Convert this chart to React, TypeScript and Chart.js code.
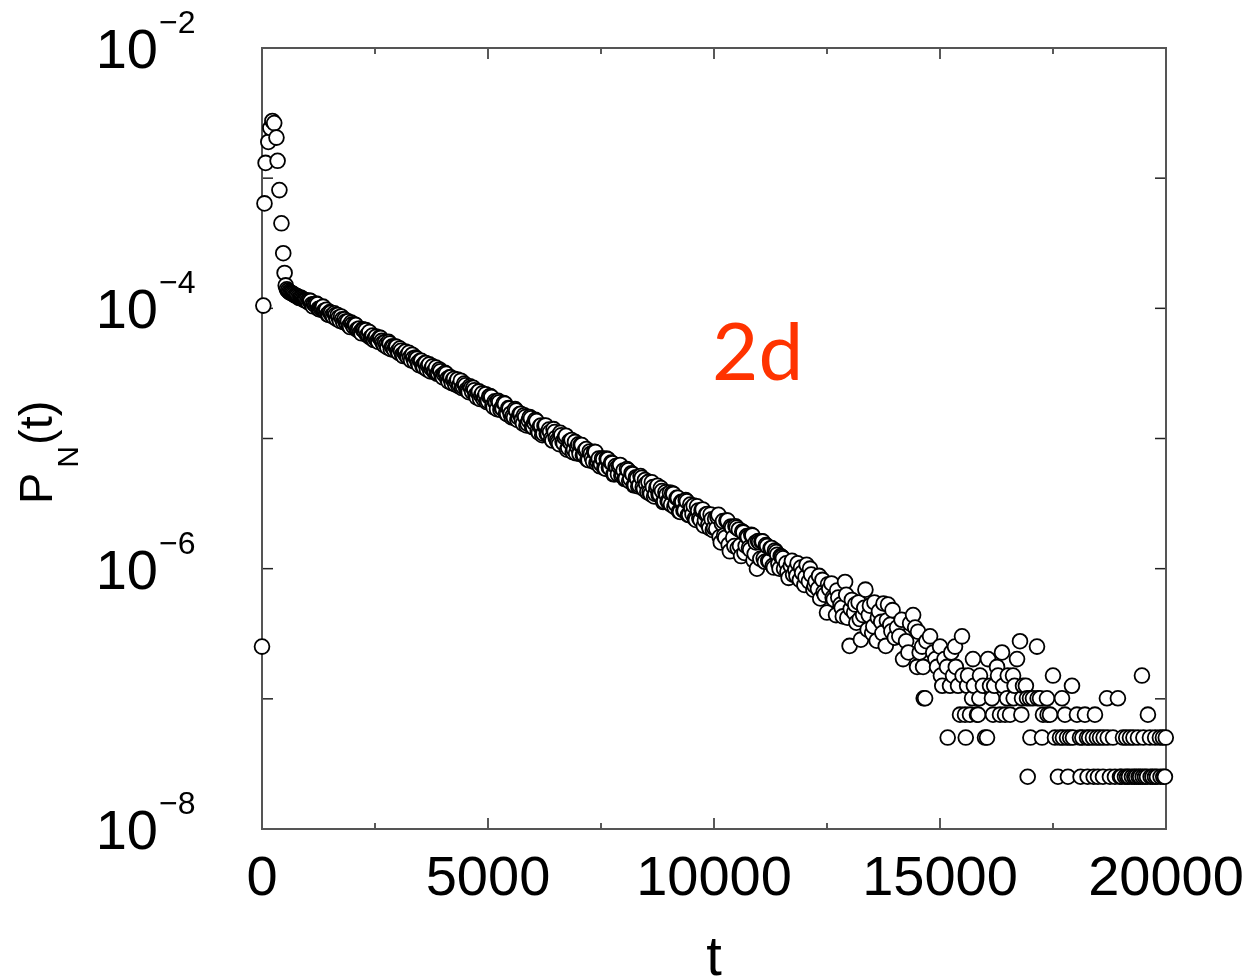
import { useEffect, useRef } from "react";
import { Chart, registerables } from "chart.js";

Chart.register(...registerables);

// ---- axis definitions ----
const X_MAJOR = [0, 5000, 10000, 15000, 20000];
const X_MINOR = [2500, 7500, 12500, 17500];
const X_LABELS = ["0", "5000", "10000", "15000", "20000"];
const Y_DECADES = [1e-2, 1e-3, 1e-4, 1e-5, 1e-6, 1e-7, 1e-8];
const Y_LABEL_VALUES = [1e-2, 1e-4, 1e-6, 1e-8];
const Y_LABEL_EXP = ["\u22122", "\u22124", "\u22126", "\u22128"];

// ---- data: early transient (t, P) ----
const EARLY_T = [0, 30, 55, 80, 140, 185, 230, 270, 320, 345, 385, 430, 470, 500, 525];
const EARLY_P = [2.52e-7, 1.05e-4, 6.4e-4, 1.31e-3, 1.9e-3, 2.43e-3, 2.75e-3, 2.65e-3, 2.05e-3, 1.36e-3, 8.1e-4, 4.5e-4, 2.65e-4, 1.87e-4, 1.5e-4];

// ---- data: exponential regime, samples at t = 550, 600, ..., 11500 ----
const DENSE_A_T0 = 550;
const DENSE_DT = 50;
const DENSE_A = [
  1.40e-4, 1.34e-4, 1.31e-4, 1.28e-4, 1.25e-4, 1.22e-4, 1.21e-4, 1.18e-4, 1.16e-4, 1.13e-4,
  1.15e-4, 1.07e-4, 1.08e-4, 1.09e-4, 9.9e-5, 1.0e-4, 1.03e-4, 9.5e-5, 9.0e-5, 9.35e-5,
  8.82e-5, 9.16e-5, 8.28e-5, 8.51e-5, 8.66e-5, 7.83e-5, 7.9e-5, 7.96e-5, 7.18e-5, 7.55e-5,
  7.52e-5, 6.87e-5, 6.99e-5, 6.43e-5, 6.83e-5, 6.8e-5, 6.21e-5, 5.96e-5, 6.19e-5, 5.94e-5,
  5.64e-5, 5.97e-5, 5.62e-5, 5.22e-5, 5.28e-5, 5.52e-5, 4.85e-5, 5.09e-5, 5.08e-5, 4.68e-5,
  4.91e-5, 4.4e-5, 4.57e-5, 4.29e-5, 4.55e-5, 3.98e-5, 4.14e-5, 4.18e-5, 3.81e-5, 3.96e-5,
  3.62e-5, 3.8e-5, 3.39e-5, 3.71e-5, 3.45e-5, 3.28e-5, 3.51e-5, 3.17e-5, 3.29e-5, 2.95e-5,
  3.2e-5, 2.87e-5, 2.95e-5, 2.66e-5, 2.88e-5, 2.74e-5, 2.52e-5, 2.78e-5, 2.49e-5, 2.56e-5,
  2.32e-5, 2.52e-5, 2.28e-5, 2.35e-5, 2.07e-5, 2.3e-5, 2.14e-5, 2.01e-5, 2.19e-5, 1.94e-5,
  2.12e-5, 1.8e-5, 1.93e-5, 1.68e-5, 1.9e-5, 1.72e-5, 1.87e-5, 1.56e-5, 1.71e-5, 1.55e-5,
  1.5e-5, 1.68e-5, 1.39e-5, 1.54e-5, 1.4e-5, 1.51e-5, 1.26e-5, 1.38e-5, 1.43e-5, 1.22e-5,
  1.39e-5, 1.15e-5, 1.24e-5, 1.06e-5, 1.25e-5, 1.09e-5, 1.17e-5, 1.0e-5, 1.18e-5, 1.01e-5,
  9.37e-6, 1.106e-5, 9.45e-6, 1.02e-5, 8.21e-6, 9.5e-6, 9.73e-6, 8.22e-6, 7.7e-6, 9.03e-6,
  8.92e-6, 7.44e-6, 8.14e-6, 6.89e-6, 7.95e-6, 7.12e-6, 7.9e-6, 6.46e-6, 7.01e-6, 6.38e-6,
  6.91e-6, 5.86e-6, 6.93e-6, 5.92e-6, 6.46e-6, 5.32e-6, 5.95e-6, 6.1e-6, 5.2e-6, 5.68e-6,
  4.92e-6, 5.7e-6, 4.92e-6, 5.31e-6, 4.37e-6, 4.94e-6, 4.36e-6, 4.99e-6, 4.09e-6, 4.48e-6,
  4.64e-6, 3.74e-6, 4.23e-6, 3.75e-6, 4.33e-6, 3.71e-6, 3.95e-6, 3.29e-6, 3.69e-6, 3.26e-6,
  3.11e-6, 3.75e-6, 3.15e-6, 3.5e-6, 2.73e-6, 3.25e-6, 2.79e-6, 3.29e-6, 2.59e-6, 2.92e-6,
  3.05e-6, 2.37e-6, 2.79e-6, 2.37e-6, 2.85e-6, 2.35e-6, 2.63e-6, 2.05e-6, 2.4e-6, 2.06e-6,
  2.03e-6, 2.59e-6, 1.59e-6, 2.32e-6, 1.73e-6, 2.34e-6, 1.36e-6, 2.07e-6, 1.49e-6, 2.07e-6,
  2.0e-6, 1.25e-6, 1.9e-6, 1.5e-6, 1.75e-6, 1.4e-6, 1.8e-6, 1.3e-6, 1.0e-6, 1.6e-6,
  1.62e-6, 1.2e-6, 1.52e-6, 1.15e-6, 1.43e-6, 1.05e-6, 1.38e-6, 1.28e-6, 1.0e-6, 1.23e-6,
];

// ---- data: interleaved samples at t = 575, 625, ..., 11475 ----
const DENSE_B_T0 = 575;
const DENSE_B = [
  1.37e-4, 1.32e-4, 1.30e-4, 1.26e-4, 1.24e-4, 1.20e-4, 1.20e-4, 1.16e-4, 1.15e-4, 1.11e-4,
  1.137e-4, 1.037e-4, 1.068e-4, 1.075e-4, 9.81e-5, 1.01e-4, 9.58e-5, 9.75e-5, 8.9e-5, 9.25e-5,
  8.64e-5, 8.88e-5, 8.87e-5, 8.01e-5, 8.24e-5, 8.23e-5, 7.65e-5, 7.34e-5, 7.78e-5, 7.25e-5,
  7.44e-5, 6.86e-5, 6.58e-5, 6.9e-5, 6.62e-5, 6.22e-5, 6.58e-5, 6.02e-5, 5.71e-5, 6.06e-5,
  5.52e-5, 5.91e-5, 5.4e-5, 5.5e-5, 5.01e-5, 5.37e-5, 5.09e-5, 4.79e-5, 5.07e-5, 4.54e-5,
  4.72e-5, 4.3e-5, 4.65e-5, 4.21e-5, 4.2e-5, 4.4e-5, 3.9e-5, 4.09e-5, 3.66e-5, 3.95e-5,
  3.54e-5, 3.8e-5, 3.61e-5, 3.28e-5, 3.58e-5, 3.27e-5, 3.14e-5, 3.39e-5, 3.04e-5, 3.12e-5,
  3.14e-5, 2.75e-5, 2.95e-5, 2.83e-5, 2.6e-5, 2.84e-5, 2.57e-5, 2.44e-5, 2.64e-5, 2.36e-5,
  2.27e-5, 2.45e-5, 2.45e-5, 2.15e-5, 2.25e-5, 2.01e-5, 2.22e-5, 2.09e-5, 1.9e-5, 2.1e-5,
  2.08e-5, 1.74e-5, 1.89e-5, 1.95e-5, 1.66e-5, 1.69e-5, 1.85e-5, 1.54e-5, 1.7e-5, 1.45e-5,
  1.45e-5, 1.64e-5, 1.45e-5, 1.55e-5, 1.3e-5, 1.46e-5, 1.3e-5, 1.46e-5, 1.23e-5, 1.32e-5,
  1.36e-5, 1.11e-5, 1.26e-5, 1.09e-5, 1.26e-5, 1.08e-5, 1.12e-5, 9.65e-6, 1.12e-5, 9.65e-6,
  9.06e-6, 1.06e-5, 9.16e-6, 1.05e-5, 8.48e-6, 9.3e-6, 7.86e-6, 9.42e-6, 8.63e-6, 7.62e-6,
  8.9e-6, 7.44e-6, 8.29e-6, 6.82e-6, 7.64e-6, 6.68e-6, 7.88e-6, 6.67e-6, 6.12e-6, 7.05e-6,
  5.92e-6, 7.01e-6, 5.99e-6, 6.53e-6, 5.31e-6, 6.13e-6, 5.31e-6, 6.26e-6, 5.31e-6, 4.88e-6,
  5.82e-6, 4.71e-6, 5.41e-6, 4.37e-6, 5.04e-6, 4.28e-6, 5.14e-6, 4.23e-6, 4.8e-6, 3.88e-6,
  3.87e-6, 4.61e-6, 3.59e-6, 4.19e-6, 3.71e-6, 4.16e-6, 3.25e-6, 3.86e-6, 3.29e-6, 3.84e-6,
  3.8e-6, 2.98e-6, 3.5e-6, 2.76e-6, 3.26e-6, 2.8e-6, 3.36e-6, 2.59e-6, 3.11e-6, 2.62e-6,
  2.42e-6, 3.01e-6, 2.44e-6, 2.81e-6, 2.14e-6, 2.61e-6, 2.17e-6, 2.61e-6, 1.98e-6, 2.42e-6,
  2.5e-6, 1.75e-6, 2.22e-6, 1.8e-6, 2.34e-6, 1.53e-6, 2.11e-6, 1.73e-6, 2.12e-6, 1.44e-6,
  1.5e-6, 1.93e-6, 1.32e-6, 1.78e-6, 1.45e-6, 1.82e-6, 1.16e-6, 1.59e-6, 1.63e-6, 1.19e-6,
  1.62e-6, 1.13e-6, 1.49e-6, 1.14e-6, 1.44e-6, 1.02e-6, 1.34e-6, 1.09e-6, 1.25e-6,
];

// ---- data: noisy tail (t, P) ----
const TAIL: [number, number][] = [
  [11525, 1.2e-6], [11550, 1.0e-6], [11600, 1.1e-6], [11625, 9.5e-7], [11650, 8.5e-7],
  [11700, 1.05e-6], [11725, 1.15e-6], [11750, 9.0e-7], [11800, 9.8e-7], [11825, 8.8e-7],
  [11850, 1.1e-6], [11900, 8.2e-7], [11925, 1.02e-6], [11950, 9.3e-7], [12000, 7.5e-7],
  [12025, 8.6e-7], [12050, 1.07e-6], [12100, 8.0e-7], [12125, 1.0e-6], [12150, 9.0e-7],
  [12200, 6.9e-7], [12225, 7.4e-7], [12250, 8.0e-7], [12300, 7.0e-7], [12325, 8.8e-7],
  [12350, 5.9e-7], [12400, 8.2e-7], [12425, 6.6e-7], [12450, 6.3e-7], [12500, 4.6e-7],
  [12525, 7.6e-7], [12550, 7.0e-7], [12600, 7.7e-7], [12625, 6.0e-7], [12650, 5.8e-7],
  [12700, 4.4e-7], [12725, 6.8e-7], [12750, 6.0e-7], [12800, 5.3e-7], [12825, 5.0e-7],
  [12850, 4.3e-7], [12900, 7.9e-7], [12925, 6.3e-7], [12950, 4.2e-7], [13000, 2.55e-7],
  [13025, 4.9e-7], [13050, 5.75e-7], [13100, 4.6e-7], [13125, 5.3e-7], [13150, 3.85e-7],
  [13200, 5.5e-7], [13225, 4.1e-7], [13250, 2.85e-7], [13300, 4.4e-7], [13325, 5.0e-7],
  [13350, 6.9e-7], [13400, 3.4e-7], [13425, 4.4e-7], [13450, 5.2e-7], [13500, 3.2e-7],
  [13525, 3.6e-7], [13550, 5.5e-7], [13600, 2.8e-7], [13625, 4.2e-7], [13650, 4.7e-7],
  [13700, 3.9e-7], [13725, 3.2e-7], [13750, 5.4e-7], [13800, 2.55e-7], [13825, 4.0e-7],
  [13850, 5.3e-7], [13900, 3.7e-7], [13925, 3.3e-7], [13950, 4.8e-7], [14000, 2.95e-7],
  [14050, 3.53e-7], [14100, 3.02e-7], [14150, 4.05e-7], [14183, 2.02e-7], [14250, 2.77e-7],
  [14300, 2.27e-7], [14339, 3.8e-7], [14405, 4.4e-7], [14450, 3.53e-7], [14493, 1.76e-7],
  [14515, 3.28e-7], [14550, 2.27e-7], [14604, 2.52e-7], [14626, 1.76e-7], [14640, 1.01e-7],
  [14670, 1.01e-7], [14700, 2.77e-7], [14780, 3.02e-7], [14850, 2.27e-7], [14900, 2.02e-7],
  [14936, 1.76e-7], [15001, 2.52e-7], [15020, 1.51e-7], [15050, 1.26e-7], [15100, 2.02e-7],
  [15155, 1.76e-7], [15170, 5.04e-8], [15222, 1.26e-7], [15250, 2.27e-7], [15288, 1.51e-7],
  [15332, 2.52e-7], [15350, 1.76e-7], [15399, 1.26e-7], [15443, 7.56e-8], [15487, 3.02e-7],
  [15500, 1.51e-7], [15554, 7.56e-8], [15570, 5.04e-8], [15600, 1.26e-7], [15620, 1.51e-7],
  [15664, 7.56e-8], [15710, 1.01e-7], [15730, 2.02e-7], [15750, 1.26e-7], [15819, 7.56e-8],
  [15841, 7.56e-8], [15870, 1.01e-7], [15885, 1.51e-7], [15950, 1.26e-7], [15996, 5.04e-8],
  [16040, 5.04e-8], [16062, 2.02e-7], [16107, 1.26e-7], [16150, 1.01e-7], [16173, 7.56e-8],
  [16200, 1.26e-7], [16262, 1.76e-7], [16284, 1.51e-7], [16328, 7.56e-8], [16372, 2.27e-7],
  [16395, 1.26e-7], [16439, 7.56e-8], [16484, 1.01e-7], [16500, 1.51e-7], [16550, 7.56e-8],
  [16616, 1.51e-7], [16630, 1.01e-7], [16650, 1.26e-7], [16704, 2.02e-7], [16770, 2.77e-7],
  [16800, 7.56e-8], [16815, 1.01e-7], [16837, 1.26e-7], [16900, 1.26e-7], [16925, 1.01e-7],
  [16940, 2.52e-8], [16991, 1.01e-7], [17000, 5.04e-8], [17057, 1.01e-7], [17146, 2.52e-7],
  [17160, 1.01e-7], [17213, 1.01e-7], [17257, 5.04e-8], [17279, 7.56e-8], [17367, 1.01e-7],
  [17380, 7.56e-8], [17434, 7.56e-8], [17500, 1.51e-7], [17544, 5.04e-8], [17610, 2.52e-8],
  [17655, 5.04e-8], [17699, 1.01e-7], [17720, 5.04e-8], [17765, 7.56e-8], [17810, 5.04e-8],
  [17831, 2.52e-8], [17880, 5.04e-8], [17920, 1.26e-7], [17942, 5.04e-8], [18030, 7.56e-8],
  [18097, 5.04e-8], [18110, 2.52e-8], [18150, 5.04e-8], [18207, 7.56e-8], [18252, 5.04e-8],
  [18265, 2.52e-8], [18300, 5.04e-8], [18384, 5.04e-8], [18400, 2.52e-8], [18428, 7.56e-8],
  [18470, 5.04e-8], [18495, 2.52e-8], [18540, 5.04e-8], [18606, 2.52e-8], [18620, 5.04e-8],
  [18693, 1.01e-7], [18710, 5.04e-8], [18760, 2.52e-8], [18827, 5.04e-8], [18871, 2.52e-8],
  [18936, 1.01e-7], [18982, 2.52e-8], [19010, 2.52e-8], [19048, 5.04e-8], [19092, 2.52e-8],
  [19120, 5.04e-8], [19140, 2.52e-8], [19180, 2.52e-8], [19203, 5.04e-8], [19247, 2.52e-8],
  [19280, 5.04e-8], [19300, 2.52e-8], [19340, 2.52e-8], [19380, 5.04e-8], [19395, 2.52e-8],
  [19430, 2.52e-8], [19468, 1.51e-7], [19485, 2.52e-8], [19500, 5.04e-8], [19535, 2.52e-8],
  [19580, 2.52e-8], [19600, 7.56e-8], [19645, 5.04e-8], [19660, 2.52e-8], [19700, 2.52e-8],
  [19756, 2.52e-8], [19760, 5.04e-8], [19800, 2.52e-8], [19865, 5.04e-8], [19880, 2.52e-8],
  [19932, 5.04e-8], [19940, 2.52e-8], [19976, 2.52e-8], [19995, 5.04e-8],
];

const FONT = "'Liberation Sans', Arial, Helvetica, sans-serif";
const MARKER_RADIUS = 7.4;
const MARKER_BORDER = 1.8;

const framePlugin = {
  id: "xmgraceFrame",
  beforeDatasetsDraw(chart: any) {
    const { ctx, chartArea: a, scales } = chart;
    const x = scales.x;
    const y = scales.y;
    ctx.save();
    const line = (x1: number, y1: number, x2: number, y2: number) => {
      ctx.beginPath();
      ctx.moveTo(x1, y1);
      ctx.lineTo(x2, y2);
      ctx.stroke();
    };
    ctx.strokeStyle = "#222";
    ctx.lineWidth = 1.5;
    for (const v of X_MAJOR) {
      const px = x.getPixelForValue(v);
      line(px, a.bottom, px, a.bottom - 11);
      line(px, a.top, px, a.top + 11);
    }
    for (const v of X_MINOR) {
      const px = x.getPixelForValue(v);
      line(px, a.bottom, px, a.bottom - 6);
      line(px, a.top, px, a.top + 6);
    }
    for (const v of Y_DECADES) {
      const py = y.getPixelForValue(v);
      line(a.left, py, a.left + 11, py);
      line(a.right, py, a.right - 11, py);
    }
    ctx.strokeStyle = "#555";
    ctx.lineWidth = 2;
    ctx.strokeRect(a.left, a.top, a.right - a.left, a.bottom - a.top);
    ctx.restore();
  },
  afterDraw(chart: any) {
    const { ctx, chartArea: a, scales } = chart;
    const x = scales.x;
    const y = scales.y;
    ctx.save();
    ctx.fillStyle = "#000";
    ctx.textBaseline = "alphabetic";
    // x tick labels
    ctx.font = `56px ${FONT}`;
    ctx.textAlign = "center";
    X_MAJOR.forEach((v, i) => {
      ctx.fillText(X_LABELS[i], x.getPixelForValue(v), a.bottom + 66);
    });
    // y tick labels 10^-n
    Y_LABEL_VALUES.forEach((v, i) => {
      const py = y.getPixelForValue(v);
      ctx.font = `56px ${FONT}`;
      ctx.textAlign = "right";
      ctx.fillText("10", 158, py + 20);
      ctx.font = `32px ${FONT}`;
      ctx.textAlign = "left";
      ctx.fillText(Y_LABEL_EXP[i], 159, py - 15);
    });
    // x title
    ctx.font = `56px ${FONT}`;
    ctx.textAlign = "center";
    ctx.fillText("t", (a.left + a.right) / 2, 975);
    // y title P_N(t)
    ctx.save();
    ctx.translate(52, 504);
    ctx.rotate(-Math.PI / 2);
    ctx.textAlign = "left";
    ctx.font = `47px ${FONT}`;
    ctx.fillText("P", 0, 0);
    const pw = ctx.measureText("P").width;
    ctx.font = `30px ${FONT}`;
    ctx.fillText("N", pw + 5, 26);
    const nw = ctx.measureText("N").width;
    ctx.font = `47px ${FONT}`;
    ctx.fillText("(t)", pw + 5 + nw + 1, 0);
    ctx.restore();
    // annotation
    ctx.font = `80px Lato, 'Open Sans', sans-serif`;
    ctx.fillStyle = "#ff3300";
    ctx.textAlign = "left";
    ctx.fillText("2d", 712, 380);
    ctx.restore();
  },
};

export default function App() {
  const ref = useRef<HTMLCanvasElement | null>(null);
  useEffect(() => {
    const canvas = ref.current;
    if (!canvas) return;
    const points: { x: number; y: number }[] = [];
    EARLY_T.forEach((t, i) => points.push({ x: t, y: EARLY_P[i] }));
    DENSE_A.forEach((p, i) => points.push({ x: DENSE_A_T0 + i * DENSE_DT, y: p }));
    DENSE_B.forEach((p, i) => points.push({ x: DENSE_B_T0 + i * DENSE_DT, y: p }));
    TAIL.forEach(([t, p]) => points.push({ x: t, y: p }));
    points.sort((a, b) => a.x - b.x);

    const chart = new Chart(canvas, {
      type: "scatter",
      data: {
        datasets: [
          {
            data: points,
            radius: MARKER_RADIUS,
            pointRadius: MARKER_RADIUS,
            borderWidth: MARKER_BORDER,
            pointBorderWidth: MARKER_BORDER,
            backgroundColor: "#ffffff",
            pointBackgroundColor: "#ffffff",
            borderColor: "#000000",
            pointBorderColor: "#000000",
            showLine: false,
            clip: false as any,
          } as any,
        ],
      },
      options: {
        animation: false,
        responsive: false,
        devicePixelRatio: 1,
        events: [],
        elements: {
          point: {
            radius: MARKER_RADIUS,
            hoverRadius: MARKER_RADIUS,
            borderWidth: MARKER_BORDER,
            backgroundColor: "#ffffff",
            borderColor: "#000000",
          },
        },
        layout: { padding: { left: 262, right: 87, top: 48, bottom: 149 } },
        plugins: { legend: { display: false }, tooltip: { enabled: false } },
        scales: {
          x: { type: "linear", min: 0, max: 20000, display: false },
          y: { type: "logarithmic", min: 1e-8, max: 1e-2, display: false },
        },
      },
      plugins: [framePlugin],
    });
    return () => chart.destroy();
  }, []);

  return (
    <div style={{ position: "absolute", left: 0, top: 0, width: 1253, height: 978, background: "#fff" }}>
      <canvas ref={ref} width={1253} height={978} style={{ display: "block" }} />
    </div>
  );
}
